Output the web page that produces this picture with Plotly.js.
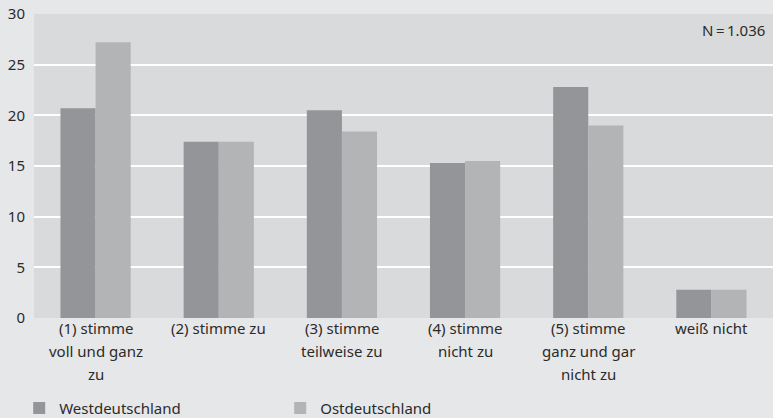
<!DOCTYPE html>
<html>
<head>
<meta charset="utf-8">
<script src="https://cdn.plot.ly/plotly-3.0.1.min.js"></script>
<style>html,body{margin:0;padding:0;background:#e6e7e8;}#chart{width:773px;height:418px;}</style>
</head>
<body>
<div id="chart"></div>
<script>
var categories = ["(1) stimme<br>voll und ganz<br>zu", "(2) stimme zu", "(3) stimme<br>teilweise zu", "(4) stimme<br>nicht zu", "(5) stimme<br>ganz und gar<br>nicht zu", "weiß nicht"];
var west = [20.7, 17.4, 20.5, 15.3, 22.8, 2.8];
var ost = [27.2, 17.4, 18.4, 15.5, 19.0, 2.8];
var seriesNames = ["Westdeutschland", "Ostdeutschland"];
var yTicks = [0, 5, 10, 15, 20, 25, 30];
var noteText = "N\u2009=\u20091.036";

var FONT = "Noto Sans, sans-serif";
var TXT = "#2b2b2b";
var FS = 15;

var xs = categories.map(function(c, i){ return i; });

var traces = [
  {type: "bar", name: seriesNames[0], x: xs, y: west, marker: {color: "#949599"}, hoverinfo: "y"},
  {type: "bar", name: seriesNames[1], x: xs, y: ost, marker: {color: "#b3b4b6"}, hoverinfo: "y"}
];

var annotations = [];
categories.forEach(function(c, i){
  c.split("<br>").forEach(function(line, j){
    annotations.push({
      x: i, xref: "x", y: 0, yref: "paper", yanchor: "middle",
      yshift: -10 - 23 * j, text: line, showarrow: false,
      font: {family: FONT, size: FS, color: TXT}
    });
  });
});
annotations.push({
  x: 1, xref: "paper", xanchor: "right", xshift: -6,
  y: 1, yref: "paper", yanchor: "middle", yshift: -16,
  text: noteText, showarrow: false,
  font: {family: FONT, size: FS, color: TXT}
});

var layout = {
  width: 773, height: 418,
  margin: {l: 34, r: 0, t: 14, b: 100, pad: 0, autoexpand: false},
  paper_bgcolor: "#e6e7e8",
  plot_bgcolor: "#d9dadb",
  barmode: "group",
  bargap: 0.43,
  bargroupgap: 0,
  showlegend: true,
  legend: {
    orientation: "h", x: -0.02, xanchor: "left", y: -0.297, yanchor: "middle",
    font: {family: FONT, size: FS, color: TXT},
    entrywidth: 216, entrywidthmode: "pixels",
    bgcolor: "rgba(0,0,0,0)", traceorder: "normal"
  },
  xaxis: {
    range: [-0.5, categories.length - 0.5],
    showticklabels: false, showgrid: false, zeroline: false, ticks: "", fixedrange: true
  },
  yaxis: {
    range: [0, 30], tickvals: yTicks, ticktext: yTicks.map(String),
    showgrid: true, gridcolor: "#ffffff", gridwidth: 2, zeroline: false,
    ticks: "", ticklabelstandoff: 8,
    tickfont: {family: FONT, size: FS, color: TXT}, fixedrange: true
  },
  annotations: annotations
};

Plotly.newPlot("chart", traces, layout, {displayModeBar: false, staticPlot: true});
</script>
</body>
</html>
